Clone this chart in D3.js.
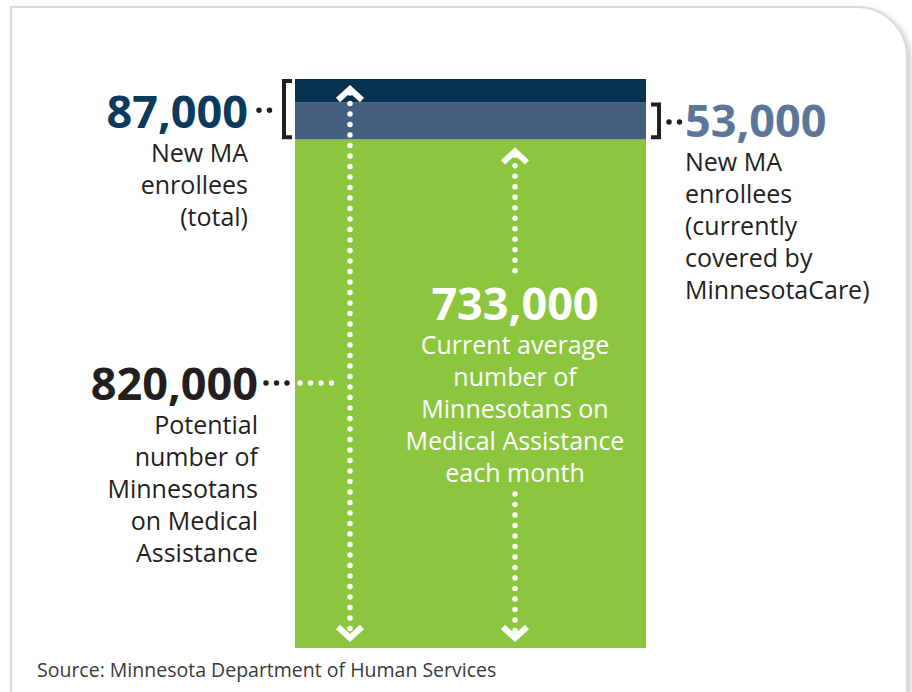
<!DOCTYPE html>
<html>
<head>
<meta charset="utf-8">
<script src="https://cdn.jsdelivr.net/npm/d3@7"></script>
<style>
  body { margin: 0; background: #fff; }
  text { font-family: "Open Sans", "Noto Sans", sans-serif; }
</style>
</head>
<body>
<div id="chart"></div>
<script>
// segments stacked from the bottom up
var segNames = ["Current MA", "New MA (from MinnesotaCare)", "New MA (other)"];
var segValues = [733000, 53000, 34000];
var segColors = ["#8cc63f", "#435e7e", "#07324f"];

var totalLabel = ["820,000", "Potential", "number of", "Minnesotans", "on Medical", "Assistance"];
var currentLabel = ["733,000", "Current average", "number of", "Minnesotans on", "Medical Assistance", "each month"];
var newTotalLabel = ["87,000", "New MA", "enrollees", "(total)"];
var newMncLabel = ["53,000", "New MA", "enrollees", "(currently", "covered by", "MinnesotaCare)"];
var source = "Source: Minnesota Department of Human Services";

var W = 912, H = 692;
var svg = d3.select("#chart").append("svg").attr("width", W).attr("height", H);

var defs = svg.append("defs");
var f = defs.append("filter").attr("id", "shadow").attr("x", "-5%").attr("y", "-5%").attr("width", "110%").attr("height", "110%");
f.append("feDropShadow").attr("dx", 3).attr("dy", 2).attr("stdDeviation", 2).attr("flood-color", "#000").attr("flood-opacity", 0.18);

// panel
svg.append("path")
    .attr("d", "M11,700 L11,7 L857,7 A50,50 0 0 1 907,57 L907,700")
    .attr("fill", "#fff")
    .attr("stroke", "#d9d9d9")
    .attr("stroke-width", 2)
    .attr("filter", "url(#shadow)");

var total = d3.sum(segValues);
var y = d3.scaleLinear().domain([0, total]).range([648, 79]);
var x0 = 295, x1 = 646;

var stacked = [];
var acc = 0;
segValues.forEach(function(v, i) {
    stacked.push({name: segNames[i], y0: acc, y1: acc + v, color: segColors[i]});
    acc += v;
});

svg.selectAll("rect.seg")
    .data(stacked)
    .enter()
    .append("rect")
    .attr("class", "seg")
    .attr("x", x0)
    .attr("width", x1 - x0)
    .attr("y", function(d) { return y(d.y1); })
    .attr("height", function(d) { return y(d.y0) - y(d.y1); })
    .attr("fill", function(d) { return d.color; });

function dotted(g, xa, ya, xb, yb, color) {
    g.append("line")
        .attr("x1", xa).attr("y1", ya).attr("x2", xb).attr("y2", yb)
        .attr("stroke", color)
        .attr("stroke-width", 5.5)
        .attr("stroke-linecap", "round")
        .attr("stroke-dasharray", "0 10.5");
}
function chevron(g, cx, cy, dir) {
    // dir -1 = up, 1 = down
    g.append("polyline")
        .attr("points", [[cx - 12, cy - dir * 11], [cx, cy], [cx + 12, cy - dir * 11]].map(function(p) { return p.join(","); }).join(" "))
        .attr("fill", "none")
        .attr("stroke", "#fff")
        .attr("stroke-width", 6);
}

var g = svg.append("g");

// full-height arrow (820,000)
var ax = 350;
dotted(g, ax, y(total) + 14, ax, y(0) - 14, "#fff");
chevron(g, ax, y(total) + 10, -1);
chevron(g, ax, y(0) - 10, 1);

// current arrow (733,000)
var bx = 515;
dotted(g, bx, y(segValues[0]) + 16, bx, 274, "#fff");
dotted(g, bx, 494, bx, y(0) - 14, "#fff");
chevron(g, bx, y(segValues[0]) + 12, -1);
chevron(g, bx, y(0) - 10, 1);

// brackets
var bl = 284;
g.append("path")
    .attr("d", "M" + (bl + 8) + "," + (y(total) + 2) + " H" + bl + " V" + (y(segValues[0]) - 2) + " H" + (bl + 8))
    .attr("fill", "none").attr("stroke", "#231f20").attr("stroke-width", 4);
var br = 659;
g.append("path")
    .attr("d", "M" + (br - 8) + "," + (y(segValues[0] + segValues[1]) + 2) + " H" + br + " V" + (y(segValues[0]) - 2) + " H" + (br - 8))
    .attr("fill", "none").attr("stroke", "#231f20").attr("stroke-width", 4);

// connector dots
var yNew = (y(total) + y(segValues[0])) / 2 + 1;
dotted(g, 259, yNew, 270, yNew, "#231f20");
var yMnc = (y(segValues[0] + segValues[1]) + y(segValues[0])) / 2 + 1;
dotted(g, 669, yMnc, 680, yMnc, "#231f20");
var yTot = 383;
dotted(g, 266, yTot, 290, yTot, "#231f20");
dotted(g, 300, yTot, 342, yTot, "#fff");

// labels
function label(lines, xPos, yPos, anchor, bigColor, smallColor) {
    var t = svg.append("g");
    t.append("text")
        .attr("x", xPos).attr("y", yPos)
        .attr("text-anchor", anchor)
        .attr("font-size", "45px")
        .attr("font-weight", "bold")
        .attr("fill", bigColor)
        .text(lines[0]);
    t.selectAll("text.sub")
        .data(lines.slice(1))
        .enter()
        .append("text")
        .attr("class", "sub")
        .attr("x", xPos)
        .attr("y", function(d, i) { return yPos + 34 + i * 32; })
        .attr("text-anchor", anchor)
        .attr("font-size", "25px")
        .attr("fill", smallColor)
        .text(function(d) { return d; });
}

label(newTotalLabel, 248, 128, "end", "#0b3a5c", "#231f20");
label(totalLabel, 258, 400, "end", "#231f20", "#231f20");
label(newMncLabel, 685, 137, "start", "#5b7699", "#231f20");
label(currentLabel, 515, 320, "middle", "#fff", "#fff");

svg.append("text")
    .attr("x", 37).attr("y", 677)
    .attr("font-size", "19.5px")
    .attr("fill", "#3a3a3a")
    .text(source);
</script>
</body>
</html>
